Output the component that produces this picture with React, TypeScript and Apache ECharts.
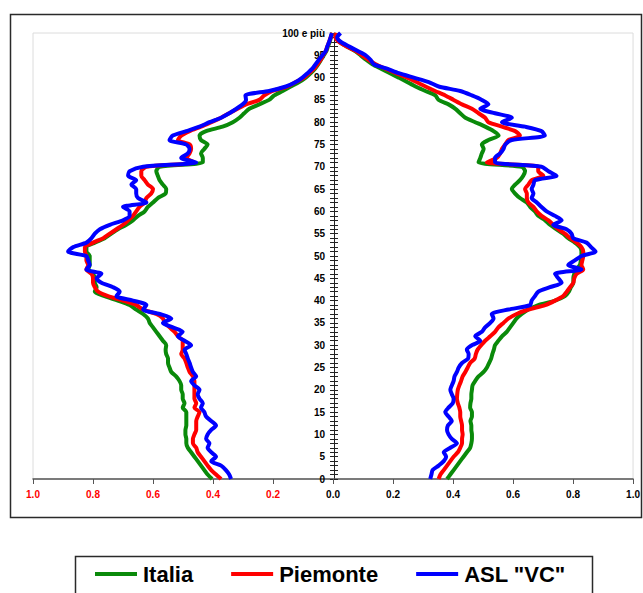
import React, { useEffect, useRef } from "react";
import * as echarts from "echarts";

const ages = [
  0, 1, 2, 3, 4, 5, 6, 7, 8, 9, 10, 11, 12, 13, 14, 15, 16, 17, 18, 19, 20, 21, 22, 23, 24, 25,
  26, 27, 28, 29, 30, 31, 32, 33, 34, 35, 36, 37, 38, 39, 40, 41, 42, 43, 44, 45, 46, 47, 48, 49,
  50, 51, 52, 53, 54, 55, 56, 57, 58, 59, 60, 61, 62, 63, 64, 65, 66, 67, 68, 69, 70, 71, 72, 73,
  74, 75, 76, 77, 78, 79, 80, 81, 82, 83, 84, 85, 86, 87, 88, 89, 90, 91, 92, 93, 94, 95, 96, 97,
  98, 99, 100,
];

const xTicks = [-1, -0.8, -0.6, -0.4, -0.2, 0, 0.2, 0.4, 0.6, 0.8, 1];

// Left side (males), values in %
const italiaM = [
  0.403, 0.418, 0.429, 0.44, 0.451, 0.462, 0.473, 0.484, 0.489, 0.489,
  0.492, 0.492, 0.489, 0.489, 0.489, 0.489, 0.501, 0.495, 0.501, 0.501,
  0.506, 0.506, 0.512, 0.523, 0.539, 0.545, 0.55, 0.55, 0.556, 0.558,
  0.556, 0.567, 0.578, 0.589, 0.6, 0.611, 0.617, 0.633, 0.656, 0.678,
  0.717, 0.761, 0.794, 0.788, 0.794, 0.794, 0.8, 0.816, 0.811, 0.811,
  0.811, 0.822, 0.822, 0.794, 0.761, 0.739, 0.717, 0.689, 0.667, 0.65,
  0.628, 0.617, 0.6, 0.584, 0.558, 0.556, 0.567, 0.578, 0.584, 0.589,
  0.578, 0.434, 0.434, 0.44, 0.429, 0.418, 0.44, 0.445, 0.423, 0.368,
  0.334, 0.312, 0.296, 0.279, 0.246, 0.213, 0.196, 0.168, 0.141, 0.113,
  0.091, 0.074, 0.06, 0.049, 0.04, 0.031, 0.022, 0.017, 0.011, 0.007, 0.002,
];
const piemonteM = [
  0.373, 0.39, 0.406, 0.418, 0.429, 0.44, 0.451, 0.456, 0.467, 0.467,
  0.462, 0.456, 0.456, 0.456, 0.451, 0.445, 0.462, 0.456, 0.462, 0.462,
  0.462, 0.462, 0.462, 0.467, 0.478, 0.484, 0.489, 0.495, 0.506, 0.501,
  0.501, 0.501, 0.517, 0.528, 0.545, 0.561, 0.567, 0.589, 0.633, 0.656,
  0.7, 0.75, 0.783, 0.794, 0.8, 0.8, 0.805, 0.822, 0.816, 0.822,
  0.822, 0.827, 0.827, 0.8, 0.766, 0.744, 0.722, 0.7, 0.683, 0.667,
  0.656, 0.645, 0.628, 0.622, 0.606, 0.6, 0.617, 0.628, 0.639, 0.639,
  0.622, 0.462, 0.489, 0.478, 0.473, 0.478, 0.517, 0.506, 0.478, 0.44,
  0.406, 0.373, 0.346, 0.318, 0.29, 0.246, 0.229, 0.202, 0.152, 0.124,
  0.096, 0.08, 0.063, 0.052, 0.041, 0.033, 0.024, 0.019, 0.013, 0.008, 0.002,
];
const aslM = [
  0.34, 0.346, 0.357, 0.373, 0.406, 0.39, 0.406, 0.418, 0.412, 0.423,
  0.418, 0.406, 0.39, 0.406, 0.423, 0.429, 0.44, 0.434, 0.445, 0.451,
  0.445, 0.462, 0.473, 0.456, 0.467, 0.473, 0.478, 0.484, 0.489, 0.495,
  0.473, 0.495, 0.517, 0.501, 0.534, 0.567, 0.539, 0.578, 0.633, 0.622,
  0.667, 0.722, 0.711, 0.733, 0.772, 0.788, 0.772, 0.822, 0.811, 0.816,
  0.822, 0.883, 0.866, 0.822, 0.805, 0.794, 0.777, 0.744, 0.7, 0.678,
  0.678, 0.7, 0.622, 0.65, 0.656, 0.656, 0.672, 0.656, 0.683, 0.678,
  0.633, 0.456, 0.506, 0.484, 0.478, 0.489, 0.545, 0.534, 0.489, 0.445,
  0.412, 0.373, 0.346, 0.323, 0.301, 0.29, 0.292, 0.213, 0.157, 0.124,
  0.102, 0.085, 0.069, 0.058, 0.047, 0.035, 0.024, 0.019, 0.013, 0.008, 0.004,
];

// Right side (females), values in %
const italiaF = [
  0.38, 0.391, 0.402, 0.413, 0.424, 0.435, 0.446, 0.457, 0.461, 0.463,
  0.463, 0.461, 0.461, 0.458, 0.463, 0.463, 0.457, 0.458, 0.461, 0.461,
  0.463, 0.465, 0.474, 0.485, 0.502, 0.513, 0.52, 0.527, 0.531, 0.536,
  0.54, 0.551, 0.563, 0.579, 0.59, 0.601, 0.612, 0.629, 0.651, 0.684,
  0.74, 0.773, 0.786, 0.793, 0.801, 0.801, 0.804, 0.812, 0.823, 0.826,
  0.828, 0.828, 0.823, 0.806, 0.784, 0.767, 0.745, 0.723, 0.707, 0.684,
  0.673, 0.657, 0.646, 0.623, 0.607, 0.596, 0.607, 0.623, 0.634, 0.64,
  0.629, 0.485, 0.491, 0.496, 0.502, 0.496, 0.518, 0.552, 0.535, 0.507,
  0.474, 0.441, 0.424, 0.408, 0.385, 0.352, 0.341, 0.308, 0.275, 0.247,
  0.219, 0.19, 0.16, 0.131, 0.11, 0.092, 0.072, 0.045, 0.022, 0.01, 0.008,
];
const piemonteF = [
  0.352, 0.358, 0.369, 0.38, 0.391, 0.402, 0.416, 0.424, 0.43, 0.43,
  0.432, 0.43, 0.43, 0.427, 0.424, 0.424, 0.421, 0.416, 0.413, 0.414,
  0.416, 0.421, 0.427, 0.432, 0.441, 0.449, 0.457, 0.472, 0.476, 0.482,
  0.494, 0.507, 0.524, 0.54, 0.551, 0.568, 0.585, 0.612, 0.651, 0.707,
  0.74, 0.767, 0.779, 0.79, 0.801, 0.804, 0.812, 0.834, 0.828, 0.831,
  0.834, 0.834, 0.828, 0.812, 0.79, 0.773, 0.751, 0.734, 0.718, 0.695,
  0.679, 0.668, 0.651, 0.646, 0.646, 0.64, 0.651, 0.662, 0.701, 0.684,
  0.684, 0.513, 0.546, 0.557, 0.563, 0.574, 0.585, 0.623, 0.607, 0.563,
  0.518, 0.507, 0.485, 0.463, 0.43, 0.402, 0.374, 0.34, 0.308, 0.278,
  0.247, 0.21, 0.175, 0.142, 0.118, 0.097, 0.075, 0.045, 0.02, 0.008, 0.012,
];
const aslF = [
  0.324, 0.328, 0.332, 0.352, 0.369, 0.377, 0.369, 0.391, 0.413, 0.396,
  0.385, 0.38, 0.383, 0.396, 0.385, 0.374, 0.385, 0.399, 0.402, 0.396,
  0.391, 0.396, 0.402, 0.405, 0.413, 0.419, 0.43, 0.45, 0.452, 0.446,
  0.463, 0.491, 0.474, 0.496, 0.507, 0.524, 0.535, 0.529, 0.585, 0.657,
  0.662, 0.673, 0.684, 0.723, 0.762, 0.751, 0.74, 0.828, 0.784, 0.806,
  0.828, 0.875, 0.86, 0.845, 0.801, 0.795, 0.778, 0.734, 0.762, 0.74,
  0.712, 0.695, 0.679, 0.662, 0.668, 0.662, 0.668, 0.673, 0.745, 0.718,
  0.695, 0.54, 0.54, 0.557, 0.568, 0.574, 0.596, 0.706, 0.695, 0.64,
  0.563, 0.596, 0.54, 0.491, 0.518, 0.496, 0.463, 0.424, 0.352, 0.319,
  0.269, 0.219, 0.18, 0.136, 0.125, 0.109, 0.081, 0.053, 0.026, 0.014, 0.025,
];

const seriesNames = ["Italia", "Piemonte", 'ASL "VC"'];
const seriesColors = ["#0a8a0a", "#ff0000", "#0000ff"];

const toLeft = (vals: number[]) => ages.map((a, i) => [-vals[i], a]);
const toRight = (vals: number[]) => ages.map((a, i) => [vals[i], a]);

export default function App() {
  const ref = useRef<HTMLDivElement>(null);
  useEffect(() => {
    if (!ref.current) return;
    const chart = echarts.init(ref.current, undefined, { renderer: "svg" });
    const leftData = [italiaM, piemonteM, aslM];
    const rightData = [italiaF, piemonteF, aslF];
    const series: any[] = [];
    seriesNames.forEach((name, k) => {
      const base = {
        type: "line",
        name,
        showSymbol: false,
        symbol: "none",
        smooth: 0.25,
        xAxisIndex: 0,
        yAxisIndex: 0,
        color: seriesColors[k],
        lineStyle: { width: 4, color: seriesColors[k] },
        z: 3 + k,
      };
      series.push({ ...base, data: toLeft(leftData[k]) });
      series.push({ ...base, data: toRight(rightData[k]) });
    });

    const option: any = {
      animation: false,
      backgroundColor: "#fff",
      grid: {
        left: 33,
        right: 8,
        top: 33,
        bottom: 114,
        show: true,
        borderColor: "#dcdcdc",
        borderWidth: 1,
        backgroundColor: "transparent",
      },
      xAxis: {
        type: "value",
        min: xTicks[0],
        max: xTicks[xTicks.length - 1],
        interval: 0.2,
        axisLine: { onZero: false, lineStyle: { color: "#555", width: 1.5 } },
        axisTick: { show: true, length: 5, lineStyle: { color: "#555", width: 1 } },
        splitLine: { show: false },
        axisLabel: {
          margin: 10,
          fontFamily: "Liberation Sans, Arial, sans-serif",
          fontWeight: "bold",
          fontSize: 10,
          color: (v: any) => (Number(v) < -1e-9 ? "#ff0000" : "#000"),
          formatter: (v: number) => Math.abs(v).toFixed(1),
        },
      },
      yAxis: [
        {
          type: "value",
          min: 0,
          max: 100,
          interval: 1,
          position: "left",
          offset: -301,
          axisLine: { show: true, onZero: false, lineStyle: { color: "#222", width: 1 } },
          axisTick: { show: true, length: 4, lineStyle: { color: "#222", width: 1 } },
          splitLine: { show: false },
          axisLabel: {
            margin: 9,
            fontFamily: "Liberation Sans, Arial, sans-serif",
            fontWeight: "bold",
            fontSize: 10,
            color: "#000",
            formatter: (v: number) =>
              v === 100 ? "100 e più" : v % 5 === 0 ? String(v) : "",
          },
        },
        {
          type: "value",
          min: 0,
          max: 100,
          interval: 1,
          position: "left",
          offset: -301,
          axisLine: { show: false, onZero: false },
          axisTick: { show: true, inside: true, length: 4, lineStyle: { color: "#222", width: 1 } },
          splitLine: { show: false },
          axisLabel: { show: false },
        },
      ],
      legend: {
        data: seriesNames,
        left: 95,
        top: 563,
        icon: "rect",
        itemWidth: 42,
        itemHeight: 4,
        itemGap: 38,
        padding: 0,
        textStyle: {
          fontFamily: "Liberation Sans, Arial, sans-serif",
          fontWeight: "bold",
          fontSize: 22,
          color: "#000",
          padding: [0, 0, 0, 1],
        },
      },
      graphic: [
        {
          type: "rect",
          shape: { x: 10.5, y: 14.5, width: 631, height: 503 },
          style: { fill: "none", stroke: "#2a2a2a", lineWidth: 1.5 },
          silent: true,
          z: -1,
        },
        {
          type: "rect",
          shape: { x: 75.5, y: 556.5, width: 517, height: 50 },
          style: { fill: "none", stroke: "#2a2a2a", lineWidth: 1.5 },
          silent: true,
          z: -1,
        },
      ],
      series,
    };
    chart.setOption(option);
    return () => chart.dispose();
  }, []);
  return <div ref={ref} style={{ width: 643, height: 593, position: "absolute", left: 0, top: 0 }} />;
}
